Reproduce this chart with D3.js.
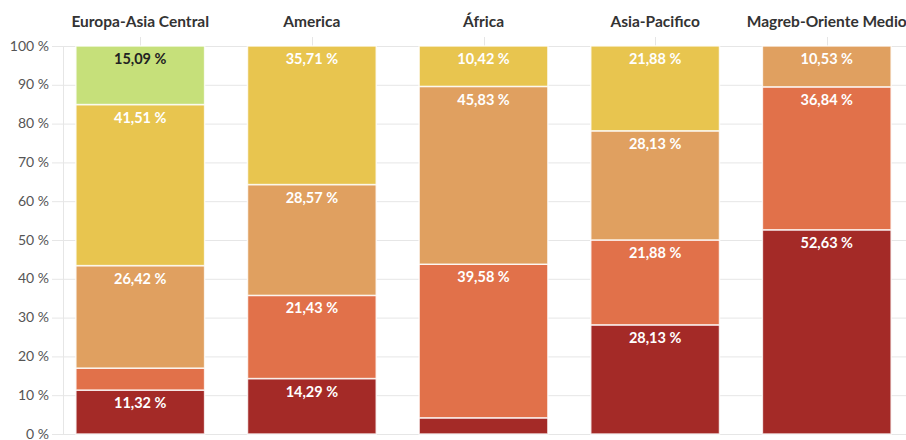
<!DOCTYPE html>
<html>
<head>
<meta charset="utf-8">
<script src="https://cdn.jsdelivr.net/npm/d3@7"></script>
<style>
  body { margin: 0; background: #fff; }
  text { font-family: Lato, "Noto Sans", sans-serif; }
</style>
</head>
<body>
<div id="vis"></div>
<script>
// Datos
const regiones = ["Europa-Asia Central", "America", "África", "Asia-Pacifico", "Magreb-Oriente Medio"];
const series = ["s1", "s2", "s3", "s4", "s5"];
// valores por serie (de abajo hacia arriba), en %
const s1 = [11.32, 14.29, 4.17, 28.13, 52.63];
const s2 = [5.66, 21.43, 39.58, 21.88, 36.84];
const s3 = [26.42, 28.57, 45.83, 28.13, 10.53];
const s4 = [41.51, 35.71, 10.42, 21.88, 0];
const s5 = [15.09, 0, 0, 0, 0];
const yTicks = [0, 10, 20, 30, 40, 50, 60, 70, 80, 90, 100];

const colores = ["#a42a27", "#e1714a", "#e0a060", "#e8c54f", "#c6e07a"];
const colorTexto = ["#fff", "#fff", "#fff", "#fff", "#222"];

const WIDTH = 906, HEIGHT = 440;
const margin = { top: 46, right: 2, bottom: 6, left: 63 };

const tabla = regiones.map((r, i) => ({
  region: r, s1: s1[i], s2: s2[i], s3: s3[i], s4: s4[i], s5: s5[i]
}));

const svg = d3.select("#vis").append("svg")
  .attr("width", WIDTH)
  .attr("height", HEIGHT);

const x = d3.scaleBand()
  .domain(regiones)
  .range([margin.left, WIDTH - margin.right])
  .paddingInner(0.25)
  .paddingOuter(0.075);

const y = d3.scaleLinear()
  .domain([0, 100])
  .range([HEIGHT - margin.bottom, margin.top]);

const fmt = d3.formatLocale({ decimal: ",", thousands: ".", grouping: [3], currency: ["", ""] }).format(".2f");

// Grilla
svg.append("g")
  .selectAll("line")
  .data(yTicks)
  .join("line")
  .attr("x1", 52)
  .attr("x2", WIDTH)
  .attr("y1", d => y(d) + 0.5)
  .attr("y2", d => y(d) + 0.5)
  .attr("stroke", "#e6e6e6");

svg.append("line")
  .attr("x1", margin.left + 0.5).attr("x2", margin.left + 0.5)
  .attr("y1", y(100)).attr("y2", y(0))
  .attr("stroke", "#e6e6e6");

svg.append("g")
  .selectAll("text")
  .data(yTicks)
  .join("text")
  .attr("x", 49)
  .attr("y", d => y(d))
  .attr("dy", "0.33em")
  .attr("text-anchor", "end")
  .attr("fill", "#555")
  .style("font-size", "14px")
  .text(d => d + " %");

// Títulos de región
svg.append("g")
  .selectAll("line")
  .data(regiones)
  .join("line")
  .attr("x1", d => Math.round(x(d) + x.bandwidth() / 2) + 0.5)
  .attr("x2", d => Math.round(x(d) + x.bandwidth() / 2) + 0.5)
  .attr("y1", 37).attr("y2", y(100))
  .attr("stroke", "#e6e6e6");

svg.append("g")
  .selectAll("text")
  .data(regiones)
  .join("text")
  .attr("x", d => x(d) + x.bandwidth() / 2)
  .attr("y", 22)
  .attr("dy", "0.35em")
  .attr("text-anchor", "middle")
  .attr("fill", "#333")
  .style("font-size", "15.5px")
  .style("font-weight", "bold")
  .text(d => d);

// Barras apiladas
const stack = d3.stack().keys(series)(tabla);

const capas = svg.append("g")
  .selectAll("g")
  .data(stack)
  .join("g")
  .attr("fill", (d, i) => colores[i]);

capas.selectAll("rect")
  .data(d => d.filter(p => p[1] - p[0] > 0))
  .join("rect")
  .attr("x", p => x(p.data.region))
  .attr("width", x.bandwidth())
  .attr("y", p => y(p[1]))
  .attr("height", p => y(p[0]) - y(p[1]))
  .attr("stroke", "#fff")
  .attr("stroke-opacity", 0.8)
  .attr("stroke-width", 1.5);

// Etiquetas
stack.forEach((capa, i) => {
  svg.append("g")
    .selectAll("text")
    .data(capa.filter(p => p[1] - p[0] >= 8))
    .join("text")
    .attr("x", p => x(p.data.region) + x.bandwidth() / 2)
    .attr("y", p => y(p[1]) + 13)
    .attr("dy", "0.35em")
    .attr("text-anchor", "middle")
    .attr("fill", colorTexto[i])
    .attr("stroke", colores[i])
    .attr("stroke-width", 2)
    .attr("paint-order", "stroke")
    .style("font-size", "14.5px")
    .style("font-weight", "bold")
    .text(p => fmt(p[1] - p[0]) + " %");
});
</script>
</body>
</html>
